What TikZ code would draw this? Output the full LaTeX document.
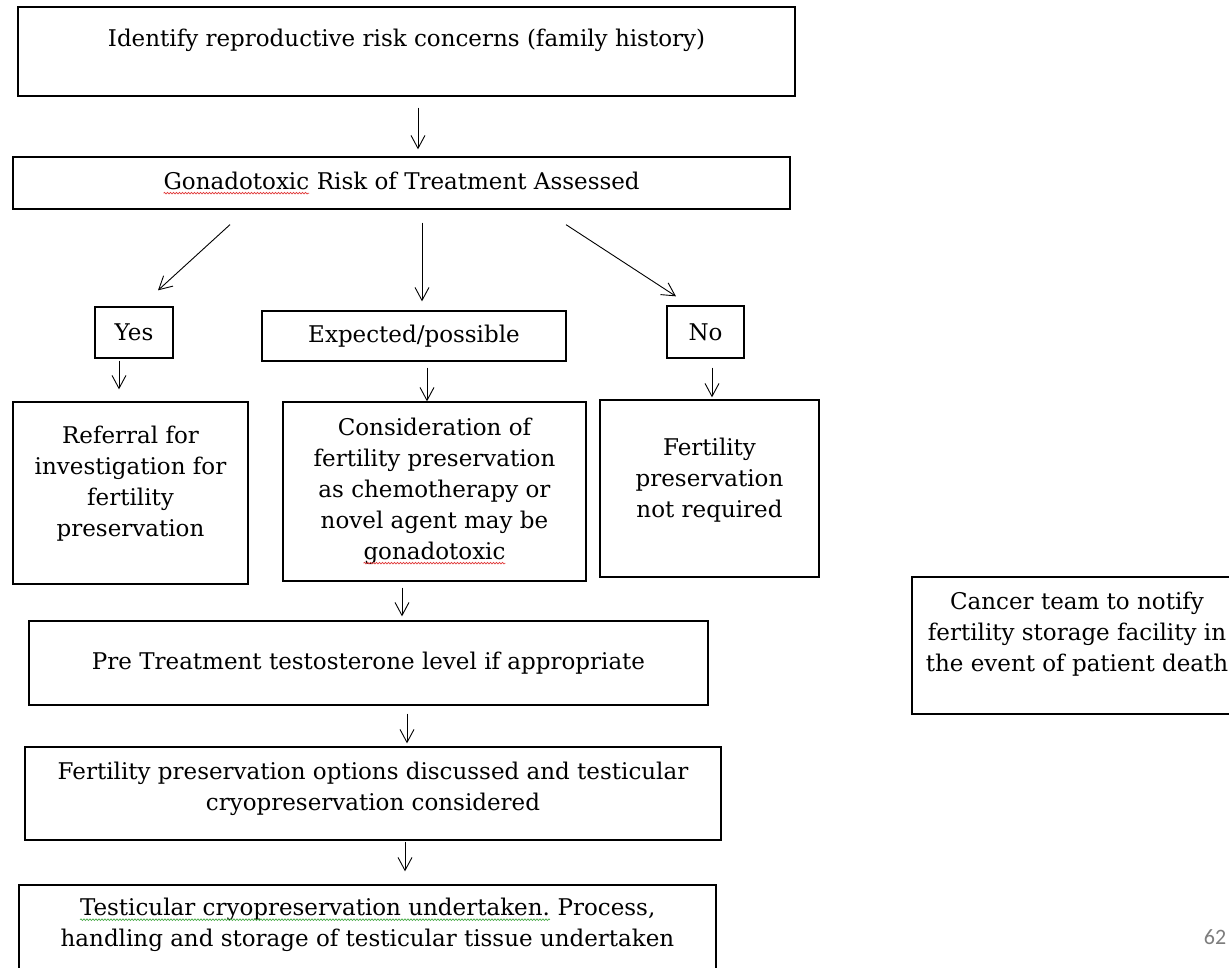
\documentclass[tikz,border=0pt]{standalone}
\usepackage{fontspec}
\setmainfont{DejaVu Serif}
\newfontfamily\pagefont{Carlito}
\usetikzlibrary{arrows.meta,decorations.pathmorphing}

% spell-check style wavy underline under a word
\newcommand\spellmark[2]{%
  \tikz[baseline=(w.base)]{%
    \node[draw=none, inner sep=0pt, outer sep=0pt, minimum width=0pt, minimum height=0pt](w){#2};%
    \draw[#1, line width=0.7pt, decorate, decoration={snake,amplitude=0.8pt,segment length=3pt}]
      ([yshift=-4pt]w.base west) -- ([yshift=-4pt]w.base east);}}

\definecolor{spellred}{RGB}{225,60,60}
\definecolor{spellgreen}{RGB}{70,170,70}
\definecolor{pagegrey}{RGB}{125,125,125}

\tikzset{
  box/.style={draw=black, line width=1.3pt, inner sep=0pt, align=center,
              font=\fontsize{23}{31}\selectfont},
  lbl/.style={inner sep=0pt, align=center, font=\fontsize{23}{31}\selectfont},
  arr/.style={-{Straight Barb[length=13pt,width=14pt]}, line width=0.9pt, black},
}

\begin{document}
\begin{tikzpicture}[x=1pt,y=-1pt]
\useasboundingbox (0,0) rectangle (1229,968);
\clip (0,0) rectangle (1229,968);
\fill[white] (0,0) rectangle (1229,968);

% boxes
\node[box, minimum width=777pt, minimum height=89pt] (b1) at (406.5,51.5) {};
\node[lbl] (b1t) at (406.5,40) {Identify reproductive risk concerns (family history)};

\node[box, minimum width=777pt, minimum height=52pt] (b2) at (401.5,183) {};
\node[lbl] (b2t) at (401.5,183) {\spellmark{spellred}{Gonadotoxic} Risk of Treatment Assessed};

\node[box, minimum width=78pt, minimum height=51pt] (yes) at (134,332.5) {Yes};
\node[box, minimum width=304pt, minimum height=50pt] (exp) at (414,336) {Expected/possible};
\node[box, minimum width=77pt, minimum height=52pt] (no) at (705.5,332) {No};

\node[box, minimum width=235pt, minimum height=182pt] (ref) at (130.5,493) {};
\node[lbl] (reft) at (130.5,483.5) {Referral for\\investigation for\\fertility\\preservation};

\node[box, minimum width=303pt, minimum height=179pt] (cons) at (434.5,491.5) {};
\node[lbl] (const) at (434.5,491)
  {Consideration of\\fertility preservation\\as chemotherapy or\\novel agent may be\\\spellmark{spellred}{gonadotoxic}};

\node[box, minimum width=219pt, minimum height=177pt] (fert) at (709.5,488.5) {};
\node[lbl] (fertt) at (709.5,480) {Fertility\\preservation\\not required};

\node[box, minimum width=679pt, minimum height=84pt] (pre) at (368.5,663)
  {Pre Treatment testosterone level if appropriate};

\node[box, minimum width=696pt, minimum height=93pt] (opt) at (373,793.5) {};
\node[lbl] (optt) at (373,789) {Fertility preservation options discussed and testicular\\cryopreservation considered};

\node[box, minimum width=697pt, minimum height=110pt] (test) at (367.5,940) {};
\node[lbl] (testt) at (367.5,925)
  {\spellmark{spellgreen}{Testicular cryopreservation undertaken.} Process,\\handling and storage of testicular tissue undertaken};

\node[box, minimum width=328pt, minimum height=137pt] (canc) at (1076,645.5) {};
\node[lbl] (canct) at (1077,634) {Cancer team to notify\\fertility storage facility in\\the event of patient death};

% page number
\node[inner sep=0pt, text=pagegrey, font=\pagefont\fontsize{22}{24}\selectfont] (pg) at (1215,937) {62};

% connectors
\draw[arr] ([xshift=11.5pt,yshift=-11pt]b1.south) -- ([xshift=16.5pt,yshift=7pt]b2.north);
\draw[arr] ([xshift=-171.5pt,yshift=-15pt]b2.south) -- ([xshift=24pt,yshift=16pt]yes.north);
\draw[arr] ([xshift=20.5pt,yshift=-13pt]b2.south) -- ([xshift=8pt,yshift=9pt]exp.north);
\draw[arr] ([xshift=164.5pt,yshift=-15pt]b2.south) -- ([xshift=-29.5pt,yshift=9pt]no.north);
\draw[arr] ([xshift=-15pt,yshift=-2pt]yes.south) -- ([xshift=-11.5pt,yshift=12pt]ref.north);
\draw[arr] ([xshift=13pt,yshift=-6pt]exp.south) -- ([xshift=-7.5pt,yshift=0pt]cons.north);
\draw[arr] ([xshift=6.5pt,yshift=-9pt]no.south) -- ([xshift=2.5pt,yshift=2pt]fert.north);
\draw[arr] ([xshift=-32.5pt,yshift=-6pt]cons.south) -- ([xshift=33.5pt,yshift=4pt]pre.north);
\draw[arr] ([xshift=38.5pt,yshift=-8pt]pre.south) -- ([xshift=34pt,yshift=3pt]opt.north);
\draw[arr] ([xshift=32pt,yshift=-1pt]opt.south) -- ([xshift=37.5pt,yshift=13pt]test.north);
\end{tikzpicture}
\end{document}
